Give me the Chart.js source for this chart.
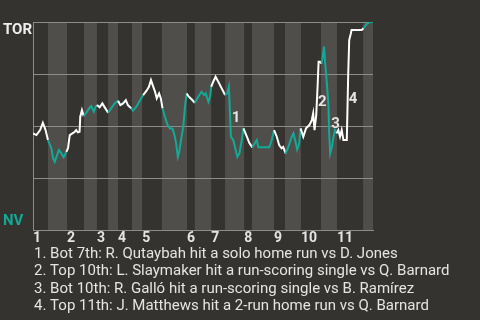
<!DOCTYPE html>
<html>
<head>
<meta charset="utf-8">
<script src="https://cdn.jsdelivr.net/npm/chart.js@4"></script>
<style>
  html, body { margin: 0; padding: 0; background: #35332f; }
  #wrap { width: 480px; height: 320px; }
</style>
</head>
<body>
<div id="wrap"><canvas id="wpchart" width="480" height="320"></canvas></div>
<script>
// play index along the game, and TOR win probability after each play
var plays = [0,1.0,2.1,2.9,3.7,4.4,5.4,5.9,6.4,7.1,
  7.6,8.3,9.0,9.8,10.3,10.8,11.6,12.3,12.7,13.2,
  13.7,13.9,14.4,14.9,15.7,16.5,17.1,17.9,18.4,18.8,
  19.6,20.4,21.1,22.1,23.0,24.0,25.0,25.7,26.5,27.3,
  27.9,28.9,29.4,30.4,31.4,32.4,33.4,34.1,34.7,35.2,
  35.9,36.4,37.1,37.6,38.1,38.8,39.6,40.3,41.0,41.6,
  42.1,42.6,43.0,43.7,44.2,44.7,45.2,45.7,46.7,47.6,
  48.6,49.6,50.3,50.8,51.6,52.1,52.4,53.0,53.7,54.5,
  55.5,56.5,57.1,57.6,57.9,58.2,58.9,59.4,60.1,60.7,
  61.4,61.9,62.9,63.6,64.5,65.8,66.3,67.7,69.5,70.2,
  70.9,71.7,72.4,73.1,73.6,74.3,75.1,76.1,76.6,77.1,
  77.7,78.3,78.7,79.5,80.3,81.3,82.0,82.4,82.8,83.3,
  83.7,84.0,84.4,84.9,85.2,85.6,85.9,86.4,86.9,87.1,
  87.4,87.9,88.3,88.8,89.3,89.8,90.3,90.8,91.3,92.3,
  92.7,93.0,93.5,93.7,96.7,97.2,98.1,99.1,100];

var winProb = [.465,.457,.481,.516,.481,.433,.394,.346,.328,.361,
  .385,.370,.351,.376,.394,.457,.465,.473,.481,.470,
  .473,.545,.577,.548,.564,.585,.596,.569,.593,.601,
  .590,.609,.590,.564,.585,.609,.622,.601,.609,.625,
  .601,.585,.574,.593,.622,.649,.670,.689,.721,.697,
  .665,.633,.657,.633,.585,.545,.505,.489,.489,.457,
  .417,.352,.376,.449,.497,.593,.657,.644,.628,.612,
  .641,.665,.649,.657,.617,.641,.689,.713,.737,.713,
  .681,.649,.657,.689,.577,.449,.433,.400,.352,.369,
  .433,.489,.449,.420,.398,.433,.398,.398,.398,.433,
  .481,.449,.409,.393,.400,.369,.400,.449,.465,.433,
  .388,.417,.489,.449,.489,.505,.529,.561,.481,.553,
  .689,.809,.809,.801,.833,.882,.809,.713,.601,.473,
  .369,.400,.441,.481,.465,.481,.449,.481,.433,.433,
  .745,.913,.946,.962,.962,.970,.989,1.0,1.0];

// play index where each half inning starts (top 1st, bot 1st, top 2nd ...)
var halfStarts = [0,4.4,10,15,18.8,22.1,25,29.1,32.1,37.9,45.3,47.6,
  52.4,56.5,62.1,64.4,70.9,74.1,78.8,84.7,89.4,97.1];
var lastPlay = 100;
var innings = ['1','2','3','4','5','6','7','8','9','10','11'];

// key plays: marker number, play index and win probability where the number sits
var eventNums = ['1','2','3','4'];
var eventPlay = [59.7, 85.1, 89.0, 94.1];
var eventWp = [.538, .615, .510, .63];
var eventText = [
  '1. Bot 7th: R. Qutaybah hit a solo home run vs D. Jones',
  '2. Top 10th: L. Slaymaker hit a run-scoring single vs Q. Barnard',
  '3. Bot 10th: R. Galló hit a run-scoring single vs B. Ramírez',
  '4. Top 11th: J. Matthews hit a 2-run home run vs Q. Barnard'
];

var BG = '#35332f';
var STRIPE = '#504e4b';
var TEAL = '#14a896';
var WHITE = '#ffffff';
var GRID = '#8e8c8a';
var TEXT = '#e4e4e4';

function isBottomHalf(x) {
  var idx = 0;
  for (var i = 0; i < halfStarts.length; i++) {
    if (x >= halfStarts[i]) idx = i;
  }
  return idx % 2 === 1;
}

var inningStarts = halfStarts.filter(function (v, i) { return i % 2 === 0; });

var backdrop = {
  id: 'backdrop',
  beforeDraw: function (chart) {
    var ctx = chart.ctx;
    var a = chart.chartArea;
    var xs = chart.scales.x;
    ctx.save();
    ctx.fillStyle = BG;
    ctx.fillRect(0, 0, chart.width, chart.height);
    ctx.fillStyle = STRIPE;
    for (var i = 1; i < halfStarts.length; i += 2) {
      var x0 = xs.getPixelForValue(halfStarts[i]);
      var end = i + 1 < halfStarts.length ? halfStarts[i + 1] : lastPlay;
      var x1 = xs.getPixelForValue(end);
      ctx.fillRect(x0, a.top, x1 - x0, a.bottom - a.top);
    }
    ctx.restore();
  }
};

var labels = {
  id: 'labels',
  afterDatasetsDraw: function (chart) {
    var ctx = chart.ctx;
    var xs = chart.scales.x, ys = chart.scales.y;
    ctx.save();
    ctx.font = 'bold 15px Roboto';
    ctx.fillStyle = TEXT;
    ctx.textAlign = 'center';
    ctx.textBaseline = 'middle';
    for (var i = 0; i < eventNums.length; i++) {
      ctx.fillText(eventNums[i], xs.getPixelForValue(eventPlay[i]), ys.getPixelForValue(eventWp[i]));
    }
    ctx.restore();
  },
  afterDraw: function (chart) {
    var ctx = chart.ctx;
    var a = chart.chartArea;
    ctx.save();
    ctx.textAlign = 'left';
    ctx.textBaseline = 'alphabetic';
    ctx.font = 'bold 15px Roboto';
    ctx.fillStyle = '#eeeeee';
    ctx.fillText('TOR', 3, a.top + 11.5);
    ctx.fillStyle = TEAL;
    ctx.fillText('NV', 3, a.bottom - 5);
    ctx.font = '15px Roboto';
    ctx.fillStyle = TEXT;
    for (var i = 0; i < eventText.length; i++) {
      ctx.fillText(eventText[i], 34, a.bottom + 27.3 + i * 17.6);
    }
    ctx.restore();
  }
};

new Chart(document.getElementById('wpchart').getContext('2d'), {
  type: 'line',
  data: {
    datasets: [{
      data: plays.map(function (p, i) { return { x: p, y: winProb[i] }; }),
      borderWidth: 2,
      pointRadius: 0,
      tension: 0,
      borderColor: WHITE,
      segment: {
        borderColor: function (c) {
          return isBottomHalf((c.p0.parsed.x + c.p1.parsed.x) / 2) ? TEAL : WHITE;
        }
      }
    }]
  },
  options: {
    responsive: false,
    animation: false,
    layout: { padding: { top: 22, left: 33, right: 107, bottom: 73 } },
    plugins: { legend: { display: false }, tooltip: { enabled: false } },
    scales: {
      x: {
        type: 'linear',
        min: 0,
        max: lastPlay,
        afterBuildTicks: function (s) {
          s.ticks = inningStarts.map(function (v) { return { value: v }; });
        },
        ticks: {
          autoSkip: false,
          maxRotation: 0,
          align: 'start',
          padding: 0,
          color: TEXT,
          font: { family: 'Roboto', size: 14, weight: 'bold' },
          callback: function (v, i) { return innings[i]; }
        },
        grid: { display: false, drawTicks: false },
        border: { display: true, color: GRID, width: 1 }
      },
      y: {
        min: 0,
        max: 1,
        ticks: { display: false, stepSize: 0.25 },
        grid: { color: GRID, lineWidth: 1, drawTicks: false },
        border: { display: true, color: GRID, width: 1 }
      }
    }
  },
  plugins: [backdrop, labels]
});
</script>
</body>
</html>
